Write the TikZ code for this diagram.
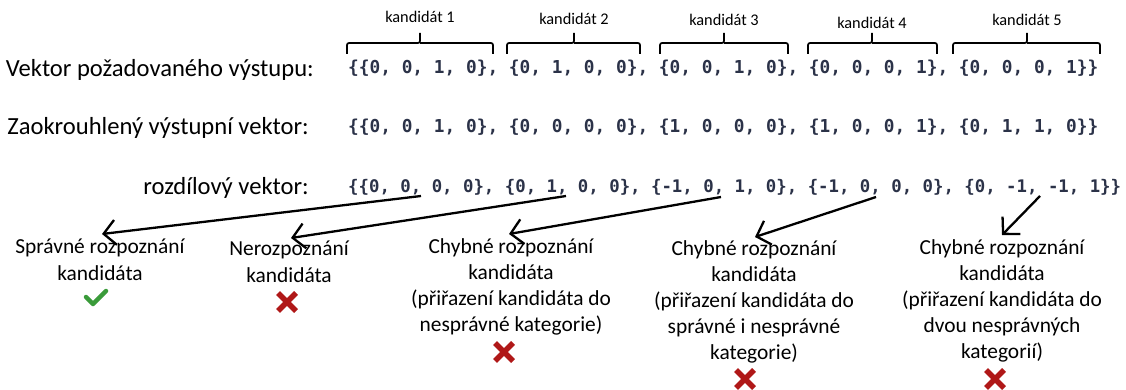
\documentclass[tikz,border=0pt]{standalone}
\usepackage{fontspec}
\setmainfont{Carlito}
\newfontfamily\vecfont{DejaVu Sans Mono}
\usetikzlibrary{arrows.meta}

\definecolor{vecblue}{HTML}{2B3248}
\definecolor{okgreen}{HTML}{3A9B3A}
\definecolor{failred}{HTML}{B01818}

\tikzset{
  rowlabel/.style={anchor=east, inner sep=0pt, font=\fontsize{24.6}{28}\selectfont},
  vec/.style={anchor=west, inner sep=0pt, text=vecblue, font=\vecfont\bfseries\fontsize{17.8}{20}\selectfont},
  candlabel/.style={inner sep=0pt, font=\fontsize{16.3}{19}\selectfont},
  caption/.style={anchor=north, align=center, inner sep=0pt, font=\fontsize{21.4}{26.2}\selectfont},
  bracket/.style={line width=1.7pt, rounded corners=2pt},
  pointer/.style={line width=2.3pt, -{Straight Barb[length=12pt, width=25pt, line width=2.3pt]}},
  okmark/.pic={\draw[line width=4.5pt, okgreen, line cap=round, line join=round]
      (-10,-1) -- (-3,6) -- (10,-7);},
  failmark/.pic={\draw[line width=5.5pt, failred]
      (-9,-9) -- (9,9) (-9,9) -- (9,-9);},
}

\begin{document}
\begin{tikzpicture}[x=1pt, y=-1pt]
\useasboundingbox (0,0) rectangle (1126,390);

% row captions
\node[rowlabel] (l1) at (314,70) {Vektor požadovaného výstupu:};
\node[rowlabel] (l2) at (309,128) {Zaokrouhlený výstupní vektor:};
\node[rowlabel] (l3) at (309,188) {rozdílový vektor:};

% vectors
\node[vec] (v1) at (348,68) {\{\{0, 0, 1, 0\}, \{0, 1, 0, 0\}, \{0, 0, 1, 0\}, \{0, 0, 0, 1\}, \{0, 0, 0, 1\}\}};
\node[vec] (v2) at (348,127) {\{\{0, 0, 1, 0\}, \{0, 0, 0, 0\}, \{1, 0, 0, 0\}, \{1, 0, 0, 1\}, \{0, 1, 1, 0\}\}};
\node[vec, font=\vecfont\bfseries\fontsize{17.35}{20}\selectfont] (v3) at (348,187) {\{\{0, 0, 0, 0\}, \{0, 1, 0, 0\}, \{-1, 0, 1, 0\}, \{-1, 0, 0, 0\}, \{0, -1, -1, 1\}\}};

% brackets over the candidates
\foreach \i/\a/\c/\b/\ly in {1/347/420/493/17, 2/507/574/640/19, 3/660/724/788/20, 4/808/872/937/23, 5/953/1027/1100/20} {
  \draw[bracket] (\a,54) |- (\c,43) -- (\c,33) (\c,43) -| (\b,54);
  \node[candlabel] (k\i) at (\c,\ly) {kandidát \i};
}

% outcomes
\node[caption] (c1) at (100,239) {Správné rozpoznání\\kandidáta};
\node[caption] (c2) at (289,241) {Nerozpoznání\\kandidáta};
\node[caption] (c3) at (511,238) {Chybné rozpoznání\\kandidáta\\(přiřazení kandidáta do\\nesprávné kategorie)};
\node[caption] (c4) at (754,240) {Chybné rozpoznání\\kandidáta\\(přiřazení kandidáta do\\správné i nesprávné\\kategorie)};
\node[caption] (c5) at (1002,239) {Chybné rozpoznání\\kandidáta\\(přiřazení kandidáta do\\dvou nesprávných\\kategorií)};

\pic at (96,298) {okmark};
\pic at (287,302) {failmark};
\pic at (504,352) {failmark};
\pic at (745,379) {failmark};
\pic at (995,379) {failmark};

% pointers from the difference vector to the outcomes
\coordinate (s1) at (421,196);
\coordinate (s2) at (566,196);
\coordinate (s3) at (721,197);
\coordinate (s4) at (876,197);
\coordinate (s5) at (1040,196);
\coordinate (t1) at (102,234);
\coordinate (t2) at (291,238);
\coordinate (t3) at (509,234);
\coordinate (t4) at (755,237);
\coordinate (t5) at (1002,235);
\foreach \i in {1,...,5} \draw[pointer] (s\i) -- (t\i);
\end{tikzpicture}
\end{document}
